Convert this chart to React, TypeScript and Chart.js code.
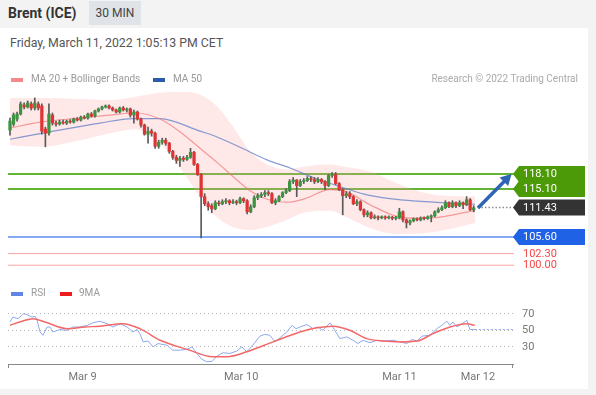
import React, { useEffect, useRef } from 'react';
import { Chart, registerables } from 'chart.js';

Chart.register(...registerables);

// ---------- text ----------
const instrument = 'Brent (ICE)';
const timeframe = '30 MIN';
const timestamp = 'Friday, March 11, 2022 1:05:13 PM CET';
const credit = 'Research \u00a9 2022 Trading Central';
const legendMain = ['MA 20 + Bollinger Bands', 'MA 50'];
const legendRsi = ['RSI', '9MA'];

// ---------- 30-min candles: [open, high, low, close] ----------
const candles: number[][] = [
  [126.8, 129.2, 125.8, 128.6], [128.0, 130.2, 127.6, 129.8], [129.0, 130.4, 128.6, 130.0], [130.0, 132.4, 129.8, 132.0],
  [131.8, 132.2, 131.0, 131.4], [131.4, 132.6, 131.2, 132.2], [132.0, 132.4, 130.8, 131.2], [131.2, 133.2, 130.8, 132.2],
  [132.0, 132.4, 130.8, 131.2], [131.6, 132.0, 126.0, 126.6], [127.0, 127.4, 123.5, 126.2], [126.2, 132.0, 125.8, 130.0],
  [129.8, 130.2, 127.8, 128.2], [128.2, 128.6, 127.6, 128.0], [128.0, 128.8, 127.8, 128.4], [128.4, 128.8, 128.0, 128.2],
  [128.2, 128.8, 127.9, 128.6], [128.6, 128.9, 128.2, 128.4], [128.4, 129.2, 128.2, 129.0], [129.0, 129.3, 128.6, 128.8],
  [128.8, 129.6, 128.6, 129.4], [129.4, 129.7, 129.0, 129.2], [129.2, 130.2, 129.0, 130.0], [130.0, 130.3, 129.4, 129.6],
  [129.6, 130.8, 129.4, 130.6], [130.6, 131.2, 130.4, 131.0], [131.0, 131.6, 130.8, 131.4], [131.4, 131.8, 131.2, 131.6],
  [131.6, 131.8, 131.0, 131.2], [131.2, 131.4, 130.6, 130.8], [130.8, 131.0, 130.2, 130.4], [130.4, 131.4, 130.2, 131.2],
  [131.2, 131.5, 130.6, 130.8], [130.8, 131.2, 130.4, 131.0], [131.0, 131.2, 129.4, 129.8], [129.8, 130.8, 128.2, 130.4],
  [130.4, 130.6, 128.8, 129.0], [129.0, 129.2, 127.4, 127.8], [127.8, 128.0, 125.8, 126.0], [126.0, 127.4, 124.2, 126.6],
  [126.6, 127.0, 125.6, 126.2], [126.2, 126.4, 123.2, 123.6], [123.6, 124.8, 123.2, 124.4], [124.4, 125.2, 124.0, 124.8],
  [124.8, 125.2, 123.8, 124.2], [124.2, 124.4, 122.2, 122.6], [122.6, 122.8, 121.0, 121.4], [121.4, 121.8, 120.2, 120.8],
  [120.8, 121.6, 119.6, 121.2], [121.2, 121.6, 120.6, 121.0], [121.0, 121.8, 120.8, 121.4], [121.4, 123.2, 121.2, 122.4],
  [122.4, 122.6, 119.8, 120.0], [120.0, 120.2, 117.8, 118.0], [118.0, 118.2, 105.4, 113.6], [113.6, 114.2, 111.8, 112.2],
  [112.2, 112.6, 110.9, 111.6], [111.8, 112.2, 110.4, 111.2], [111.2, 112.8, 111.0, 112.4], [112.4, 112.8, 111.8, 112.2],
  [112.2, 113.0, 112.0, 112.6], [112.6, 113.2, 112.2, 112.8], [112.8, 113.0, 112.0, 112.4], [112.4, 113.0, 112.2, 112.6],
  [112.6, 112.9, 112.0, 112.4], [112.4, 113.5, 112.2, 113.2], [113.2, 113.4, 112.4, 112.8], [112.8, 113.0, 110.2, 110.6],
  [110.6, 112.0, 110.4, 111.6], [111.6, 113.8, 111.4, 113.4], [113.4, 114.2, 113.0, 113.8], [113.8, 114.4, 113.4, 114.0],
  [114.0, 114.8, 113.6, 114.4], [114.4, 114.8, 113.8, 114.2], [114.2, 114.4, 112.2, 112.4], [112.4, 113.2, 112.0, 112.8],
  [112.8, 113.8, 112.6, 113.6], [113.6, 114.6, 113.4, 114.4], [114.4, 115.2, 114.2, 114.8], [114.8, 117.0, 114.6, 116.6],
  [116.6, 117.4, 116.2, 116.9], [116.9, 117.0, 113.6, 115.8], [115.8, 117.0, 115.6, 116.6], [116.6, 117.2, 116.2, 116.8],
  [116.8, 117.6, 116.6, 117.2], [117.2, 117.6, 116.6, 117.0], [117.0, 117.4, 116.2, 116.6], [116.6, 117.4, 116.4, 117.0],
  [117.0, 117.2, 116.2, 116.6], [116.6, 116.8, 115.0, 115.8], [115.8, 118.0, 115.6, 117.8], [117.8, 118.4, 117.4, 118.0],
  [118.0, 118.4, 116.0, 116.2], [116.2, 116.4, 114.8, 115.0], [115.0, 115.2, 110.0, 113.8], [113.8, 114.6, 113.4, 114.2],
  [114.2, 114.6, 113.2, 113.6], [113.6, 113.8, 112.0, 112.2], [112.2, 113.0, 111.8, 112.6], [112.6, 112.8, 110.8, 111.0],
  [111.0, 111.2, 109.6, 110.0], [110.0, 110.8, 109.6, 110.4], [110.4, 110.6, 109.2, 109.4], [109.4, 110.0, 109.2, 109.6],
  [109.6, 109.8, 109.0, 109.4], [109.4, 109.8, 109.2, 109.6], [109.6, 109.8, 109.1, 109.4], [109.4, 109.8, 109.2, 109.5],
  [109.5, 109.7, 109.0, 109.3], [109.3, 109.7, 109.0, 109.4], [109.4, 111.3, 109.2, 110.6], [110.6, 110.8, 108.6, 109.0],
  [109.0, 109.2, 107.4, 108.4], [108.4, 109.0, 108.0, 108.8], [108.8, 109.4, 108.6, 109.2], [109.2, 109.4, 108.8, 109.0],
  [109.0, 109.6, 108.8, 109.4], [109.4, 109.6, 109.0, 109.3], [109.3, 109.8, 109.1, 109.6], [109.6, 110.0, 108.6, 109.8],
  [109.8, 110.8, 109.6, 110.6], [110.6, 111.4, 110.4, 111.0], [111.0, 111.8, 110.8, 111.4], [111.4, 112.8, 111.2, 112.4],
  [112.4, 112.6, 111.4, 111.6], [111.6, 112.8, 111.4, 112.4], [112.4, 112.6, 111.4, 111.8], [111.8, 112.8, 111.6, 112.4],
  [112.4, 112.6, 111.2, 112.0], [112.0, 113.6, 111.8, 113.0], [113.0, 113.2, 110.8, 111.0], [111.0, 111.8, 110.6, 111.4],
];

// ---------- x-axis day labels (positions in candle index units) ----------
const dayTickIdx = [20.5, 65.3, 110, 132.2];
const dayTickLabels = ['Mar 9', 'Mar 10', 'Mar 11', 'Mar 12'];

// ---------- MA 20 + Bollinger bands (read at these candle indices) ----------
const bandIdx = [0, 8.5, 19.8, 28.2, 35.3, 42.4, 48.9, 53.7, 58.5, 63, 67.8, 72.6, 78.4, 83.3, 90.4, 95, 101.7, 108.8, 115.8, 122.9, 131.4];
const ma20 = [127.2, 128.4, 129.2, 129.8, 130.2, 129.0, 126.0, 123.2, 120.4, 117.6, 114.8, 113.1, 112.5, 113.2, 115.0, 114.6, 112.0, 109.8, 109.3, 109.7, 110.9];
const bbUpper = [133.2, 133.2, 133.0, 132.8, 133.4, 134.2, 134.4, 133.8, 131.5, 127.5, 122.6, 120.0, 119.0, 119.6, 120.0, 119.5, 118.6, 116.4, 114.6, 113.8, 113.7];
const bbLower = [123.8, 123.5, 124.8, 126.2, 127.0, 124.2, 118.5, 113.5, 109.5, 107.6, 107.0, 107.6, 109.0, 110.5, 110.8, 109.5, 107.4, 106.2, 106.3, 107.0, 108.4];

// ---------- MA 50 ----------
const ma50Idx = [0, 9.3, 25.4, 34.7, 42.4, 53.7, 58, 65, 72.6, 79.1, 86, 93.2, 100, 107.3, 115, 122.9, 131.4];
const ma50 = [125.0, 126.2, 128.2, 129.1, 129.1, 126.6, 125.6, 123.4, 120.9, 119.3, 117.3, 115.6, 114.1, 113.2, 112.7, 112.4, 112.1];

// ---------- levels ----------
const resistance = [118.1, 115.1];
const support = [105.6];
const lowerLevels = [102.3, 100.0];
const lastPrice = 111.43;
const arrowFrom = [132.2, 111.35];
const arrowTo = [141.7, 118.1];

// ---------- RSI ----------
const rsiIdx = [0, 0.8, 2.3, 3.7, 4.8, 6.2, 7.1, 7.6, 8.5, 9.3, 10.5, 11.3, 12.1, 14.1, 16.1, 17.8, 19.8, 21.8, 23.4, 25.4, 27.4, 29.1, 31.1, 33.1, 34.7, 35.9, 36.7, 37.6, 39, 40.4, 41.8, 44.4, 46, 48, 50, 51.4, 52.8, 54.2, 55.6, 57.1, 58.5, 60.2, 62.1, 64.1, 65.5, 66.9, 68.6, 70.6, 72, 73.4, 74.9, 76.3, 78.2, 79.7, 80.8, 81.9, 83.9, 85.6, 87, 88.4, 90.4, 91.2, 93.2, 95.2, 96.9, 98.3, 99.7, 101.7, 103.7, 105.9, 108.2, 110.2, 112.1, 113.6, 115, 116.4, 118.6, 120.6, 122, 123.4, 124.3, 125.1, 126.3, 127.7, 129.1, 129.9, 131.3];
const rsiVals = [60, 66, 64, 70, 69, 66, 67, 63, 48, 44, 54, 54, 48, 51, 50, 54, 54, 56, 59, 61, 58, 54, 58, 54, 48, 51, 46, 36, 37, 30, 34, 32, 26, 26, 27, 30, 22, 15, 12, 12.5, 19, 23, 22, 25, 30, 24, 32, 43, 45, 44, 36, 41, 48, 56, 52, 54, 57, 52, 54, 50, 59, 54, 40, 42, 38, 34, 38, 35, 38, 37, 38, 36, 34, 39, 37, 43, 44, 52, 56, 61, 56, 60, 54, 58, 62, 51, 51];
const rsiMaIdx = [0, 3.4, 6.5, 9.9, 16.1, 21.2, 25.4, 31.9, 36.7, 42.4, 50, 57.3, 61.3, 66.9, 74.3, 81.9, 86.7, 91.2, 96, 100.8, 105.4, 110.2, 115, 119.5, 124.3, 129.1, 131.3];
const rsiMaVals = [56, 61, 64, 60, 52, 54, 55, 58, 52, 38, 27, 18, 18, 24, 36, 48, 53, 55, 50, 40, 37, 36, 37, 46, 54, 58, 56];
const rsiLevels = [70, 50, 30];

// ---------- scale domains ----------
const X_MIN = -0.56;
const X_MAX = 142.1;
const PRICE_MIN = 98.06;
const PRICE_MAX = 134.37;
const RSI_MIN = 9.3;
const RSI_MAX = 85.9;

const FONT = 'Roboto, "Liberation Sans", Arial, sans-serif';
const UP = '#3a9440';
const DOWN = '#de3434';

const pts = (xs: number[], ys: number[]) => xs.map((x, i) => ({ x, y: ys[i] }));

const priceOverlay = {
  id: 'priceOverlay',
  beforeDatasetsDraw(chart: any) {
    const { ctx, chartArea, scales } = chart;
    const y = scales.y;
    const L = chartArea.left;
    const R = chartArea.right;
    ctx.save();
    const hline = (v: number, color: string, w: number) => {
      const py = y.getPixelForValue(v);
      ctx.strokeStyle = color;
      ctx.lineWidth = w;
      ctx.beginPath();
      ctx.moveTo(L, py);
      ctx.lineTo(R + 1, py);
      ctx.stroke();
    };
    lowerLevels.forEach((v) => hline(v, '#f6a3a3', 1));
    support.forEach((v) => hline(v, '#5b8ff0', 1.5));
    resistance.forEach((v) => hline(v, '#63b334', 2));
    ctx.restore();
  },
  afterDatasetsDraw(chart: any) {
    const { ctx, chartArea, scales } = chart;
    const x = scales.x;
    const y = scales.y;
    const R = chartArea.right;
    ctx.save();
    // dotted last-price line
    const lp = y.getPixelForValue(lastPrice);
    ctx.strokeStyle = '#8a8a8a';
    ctx.lineWidth = 1.5;
    ctx.setLineDash([1.5, 2]);
    ctx.beginPath();
    ctx.moveTo(x.getPixelForValue(arrowFrom[0]), lp);
    ctx.lineTo(R, lp);
    ctx.stroke();
    ctx.setLineDash([]);

    // arrow
    const ax0 = x.getPixelForValue(arrowFrom[0]);
    const ay0 = y.getPixelForValue(arrowFrom[1]);
    const ax1 = x.getPixelForValue(arrowTo[0]);
    const ay1 = y.getPixelForValue(arrowTo[1]);
    const ang = Math.atan2(ay1 - ay0, ax1 - ax0);
    const head = 11;
    ctx.strokeStyle = '#2d64b6';
    ctx.fillStyle = '#2d64b6';
    ctx.lineWidth = 3.5;
    ctx.lineCap = 'butt';
    ctx.beginPath();
    ctx.moveTo(ax0, ay0);
    ctx.lineTo(ax1 - Math.cos(ang) * head * 0.8, ay1 - Math.sin(ang) * head * 0.8);
    ctx.stroke();
    ctx.beginPath();
    ctx.moveTo(ax1, ay1);
    ctx.lineTo(ax1 - head * Math.cos(ang) + 6 * Math.sin(ang), ay1 - head * Math.sin(ang) - 6 * Math.cos(ang));
    ctx.lineTo(ax1 - head * Math.cos(ang) - 6 * Math.sin(ang), ay1 - head * Math.sin(ang) + 6 * Math.cos(ang));
    ctx.closePath();
    ctx.fill();

    // label tags
    const tag = (v: number, fill: string) => {
      const py = y.getPixelForValue(v);
      const x0 = R;
      ctx.fillStyle = fill;
      ctx.beginPath();
      ctx.moveTo(x0, py);
      ctx.lineTo(x0 + 6, py - 8);
      ctx.lineTo(x0 + 72, py - 8);
      ctx.lineTo(x0 + 72, py + 8);
      ctx.lineTo(x0 + 6, py + 8);
      ctx.closePath();
      ctx.fill();
    };
    const label = (v: number, color: string) => {
      const py = y.getPixelForValue(v);
      ctx.fillStyle = color;
      ctx.font = '11px ' + FONT;
      ctx.textBaseline = 'middle';
      ctx.textAlign = 'left';
      ctx.fillText(v.toFixed(2), R + 10, py + 0.5);
    };
    resistance.forEach((v) => tag(v, '#4c9a08'));
    resistance.forEach((v) => label(v, '#ffffff'));
    tag(lastPrice, '#333333');
    label(lastPrice, '#ffffff');
    support.forEach((v) => { tag(v, '#1f62e6'); label(v, '#ffffff'); });
    lowerLevels.forEach((v) => label(v, '#f04848'));
    ctx.restore();
  },
};

const rsiOverlay = {
  id: 'rsiOverlay',
  afterDraw(chart: any) {
    const { ctx, chartArea } = chart;
    ctx.save();
    ctx.strokeStyle = '#888';
    ctx.lineWidth = 1;
    ctx.beginPath();
    ctx.moveTo(chartArea.left + 0.5, chartArea.bottom);
    ctx.lineTo(chartArea.left + 0.5, chartArea.bottom + 4);
    ctx.moveTo(chartArea.right - 0.5, chartArea.bottom);
    ctx.lineTo(chartArea.right - 0.5, chartArea.bottom + 4);
    ctx.stroke();
    ctx.restore();
  },
};

export default function App() {
  const priceRef = useRef<HTMLCanvasElement | null>(null);
  const rsiRef = useRef<HTMLCanvasElement | null>(null);

  useEffect(() => {
    document.body.style.margin = '0';
    const priceChart = new Chart(priceRef.current as HTMLCanvasElement, {
      type: 'bar',
      data: {
        datasets: [
          {
            type: 'line', label: 'BB upper', data: pts(bandIdx, bbUpper) as any,
            borderWidth: 0, borderColor: 'rgba(0,0,0,0)', pointRadius: 0, fill: '+1',
            backgroundColor: 'rgba(250,165,165,0.26)', cubicInterpolationMode: 'monotone', order: 10,
          } as any,
          {
            type: 'line', label: 'BB lower', data: pts(bandIdx, bbLower) as any,
            borderWidth: 0, borderColor: 'rgba(0,0,0,0)', pointRadius: 0, fill: false,
            cubicInterpolationMode: 'monotone', order: 9,
          } as any,
          {
            type: 'line', label: legendMain[1], data: pts(ma50Idx, ma50) as any,
            borderWidth: 1.2, borderColor: 'rgba(95,125,200,0.75)', pointRadius: 0, fill: false,
            cubicInterpolationMode: 'monotone', order: 8,
          } as any,
          {
            type: 'line', label: 'MA 20', data: pts(bandIdx, ma20) as any,
            borderWidth: 1.2, borderColor: 'rgba(240,120,120,0.7)', pointRadius: 0, fill: false,
            cubicInterpolationMode: 'monotone', order: 7,
          } as any,
          {
            type: 'bar', label: 'wicks', data: candles.map((c, i) => ({ x: i, y: [c[2], c[1]] })) as any,
            backgroundColor: '#5a5a5a', barThickness: 1, grouped: false, order: 2,
          } as any,
          {
            type: 'bar', label: 'bodies', data: candles.map((c, i) => ({ x: i, y: [c[0], c[3]] })) as any,
            backgroundColor: candles.map((c) => (c[3] >= c[0] ? UP : DOWN)),
            barThickness: 2.6, minBarLength: 1, grouped: false, order: 1,
          } as any,
        ],
      },
      options: {
        animation: false,
        responsive: false,
        maintainAspectRatio: false,
        events: [],
        layout: { padding: { left: 8, right: 83, top: 32, bottom: 10 } },
        plugins: { legend: { display: false }, tooltip: { enabled: false } },
        scales: {
          x: { type: 'linear', min: X_MIN, max: X_MAX, offset: false, display: false },
          y: { min: PRICE_MIN, max: PRICE_MAX, display: false },
        },
      } as any,
      plugins: [priceOverlay],
    });

    const last = rsiVals.length - 1;
    const rsiChart = new Chart(rsiRef.current as HTMLCanvasElement, {
      type: 'line',
      data: {
        datasets: [
          {
            label: legendRsi[1], data: pts(rsiMaIdx, rsiMaVals) as any, borderColor: '#f26868',
            borderWidth: 1.5, pointRadius: 0, cubicInterpolationMode: 'monotone', fill: false,
          },
          {
            label: legendRsi[0], data: pts(rsiIdx, rsiVals) as any, borderColor: '#90a9ee',
            borderWidth: 1, pointRadius: 0, tension: 0, fill: false,
          },
          {
            label: 'RSI tail', data: [{ x: rsiIdx[last], y: rsiVals[last] }, { x: X_MAX, y: rsiVals[last] }] as any,
            borderColor: '#90a9ee', borderWidth: 1, borderDash: [2, 2], pointRadius: 0, fill: false,
          },
        ],
      },
      options: {
        animation: false,
        responsive: false,
        maintainAspectRatio: false,
        events: [],
        layout: { padding: { left: 8, right: 0, top: 15, bottom: 0 } },
        plugins: { legend: { display: false }, tooltip: { enabled: false } },
        scales: {
          x: {
            type: 'linear', min: X_MIN, max: X_MAX, offset: false,
            grid: { display: false, drawTicks: false },
            border: { display: true, color: '#888', width: 1 },
            ticks: {
              color: '#777', font: { size: 11, family: FONT }, padding: 7,
              autoSkip: false, maxRotation: 0,
              callback: (_v: any, i: number) => dayTickLabels[i],
            },
            afterBuildTicks: (s: any) => { s.ticks = dayTickIdx.map((v) => ({ value: v })); },
            afterFit: (s: any) => { s.height = 31; },
          },
          y: {
            position: 'right', min: RSI_MIN, max: RSI_MAX,
            grid: { color: '#b5b5b5', drawTicks: false, lineWidth: 1 },
            border: { display: false, dash: [1, 3] },
            ticks: { color: '#777', font: { size: 11, family: FONT }, padding: 9 },
            afterBuildTicks: (s: any) => { s.ticks = rsiLevels.map((v) => ({ value: v })); },
            afterFit: (s: any) => { s.width = 83; },
          },
        },
      } as any,
      plugins: [rsiOverlay],
    });

    return () => {
      priceChart.destroy();
      rsiChart.destroy();
    };
  }, []);

  const swatch = (left: number, top: number, color: string): React.CSSProperties => ({
    position: 'absolute', left, top, width: 12, height: 4, background: color,
  });
  const small = (left: number, top: number, color: string, size = 10): React.CSSProperties => ({
    position: 'absolute', left, top, fontSize: size, lineHeight: '12px', color, whiteSpace: 'nowrap',
  });

  return (
    <div style={{ position: 'absolute', left: 0, top: 0, width: 596, height: 395, overflow: 'hidden', background: '#f3f3f3', fontFamily: FONT }}>
      <div style={{ position: 'absolute', left: 0, top: 28, width: 588, height: 361, background: '#ffffff' }} />
      <div style={{ position: 'absolute', left: 8, top: 5, fontSize: 14, fontWeight: 700, lineHeight: '16px', color: '#333' }}>{instrument}</div>
      <div style={{ position: 'absolute', left: 89, top: 1, width: 52, height: 24, background: '#e0e3e7', color: '#444', fontSize: 12, lineHeight: '24px', textAlign: 'center' }}>{timeframe}</div>
      <div style={{ position: 'absolute', left: 10, top: 36, fontSize: 12.3, lineHeight: '14px', color: '#555', whiteSpace: 'nowrap' }}>{timestamp}</div>

      <canvas ref={priceRef} width={596} height={225} style={{ position: 'absolute', left: 0, top: 60, width: 596, height: 225 }} />
      <canvas ref={rsiRef} width={596} height={110} style={{ position: 'absolute', left: 0, top: 285, width: 596, height: 110 }} />

      <div style={swatch(11, 78, '#f48a8a')} />
      <div style={small(31, 73, '#999')}>{legendMain[0]}</div>
      <div style={swatch(153, 78, '#2f5aa8')} />
      <div style={small(173, 73, '#999')}>{legendMain[1]}</div>
      <div style={{ ...small(0, 73, '#aaa'), left: undefined, right: 18 } as React.CSSProperties}>{credit}</div>

      <div style={swatch(11, 292, '#5f86e6')} />
      <div style={small(31, 287, '#999')}>{legendRsi[0]}</div>
      <div style={swatch(60, 292, '#ee1c1c')} />
      <div style={small(79, 287, '#999')}>{legendRsi[1]}</div>
    </div>
  );
}
